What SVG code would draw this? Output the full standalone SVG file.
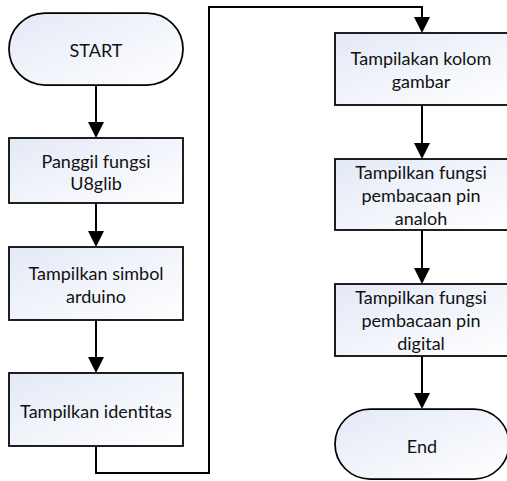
<svg xmlns="http://www.w3.org/2000/svg" width="507" height="481" viewBox="0 0 507 481">
  <style>
    .shape { fill: url(#fillGrad); stroke: #000; stroke-width: 1.75; }
    .label { font-family: Lato, "Liberation Sans", sans-serif; font-size: 18px; fill: #111; text-anchor: middle; }
    .conn { fill: none; stroke: #000; stroke-width: 2; marker-end: url(#arrow); }
  </style>
  <defs>
    <linearGradient id="fillGrad" x1="0" y1="0" x2="1" y2="1">
      <stop offset="0" stop-color="#e3e9f6"/>
      <stop offset="1" stop-color="#ffffff"/>
    </linearGradient>
    <marker id="arrow" markerUnits="userSpaceOnUse" markerWidth="16" markerHeight="16" refX="14" refY="8" orient="auto">
      <path d="M0,0 L16,8 L0,16 Z" fill="#000"/>
    </marker>
  </defs>
  <rect width="507" height="481" fill="#fff"/>

  <!-- connectors -->
  <g id="connectors">
    <path class="conn" d="M96,85 V136"/>
    <path class="conn" d="M96,203 V245"/>
    <path class="conn" d="M96,320 V371"/>
    <path class="conn" d="M96,446 V473 H209 V7 H422 V31"/>
    <path class="conn" d="M422,105 V157"/>
    <path class="conn" d="M422,230 V282"/>
    <path class="conn" d="M422,356 V407"/>
  </g>

  <!-- left column -->
  <g id="start">
    <rect class="shape" x="9" y="13" width="174" height="72" rx="36" ry="36"/>
    <text class="label" x="96" y="57">START</text>
  </g>
  <g id="panggil-fungsi">
    <rect class="shape" x="9" y="138" width="174" height="65"/>
    <text class="label" x="96" y="168">Panggil fungsi</text>
    <text class="label" x="96" y="190">U8glib</text>
  </g>
  <g id="tampilkan-simbol">
    <rect class="shape" x="9" y="247" width="174" height="73"/>
    <text class="label" x="96" y="280">Tampilkan simbol</text>
    <text class="label" x="96" y="303">arduino</text>
  </g>
  <g id="tampilkan-identitas">
    <rect class="shape" x="9" y="373" width="174" height="73"/>
    <text class="label" x="96" y="418">Tampilkan identitas</text>
  </g>

  <!-- right column -->
  <g id="kolom-gambar">
    <rect class="shape" x="335" y="33" width="174" height="72"/>
    <text class="label" x="421" y="65">Tampilakan kolom</text>
    <text class="label" x="421" y="88">gambar</text>
  </g>
  <g id="pin-analog">
    <rect class="shape" x="335" y="159" width="174" height="71"/>
    <text class="label" x="421" y="179">Tampilkan fungsi</text>
    <text class="label" x="421" y="202">pembacaan pin</text>
    <text class="label" x="421" y="225">analoh</text>
  </g>
  <g id="pin-digital">
    <rect class="shape" x="335" y="284" width="174" height="72"/>
    <text class="label" x="421" y="304">Tampilkan fungsi</text>
    <text class="label" x="421" y="327">pembacaan pin</text>
    <text class="label" x="421" y="350">digital</text>
  </g>
  <g id="end">
    <rect class="shape" x="335" y="409" width="174" height="70" rx="35" ry="35"/>
    <text class="label" x="422" y="453">End</text>
  </g>
</svg>
